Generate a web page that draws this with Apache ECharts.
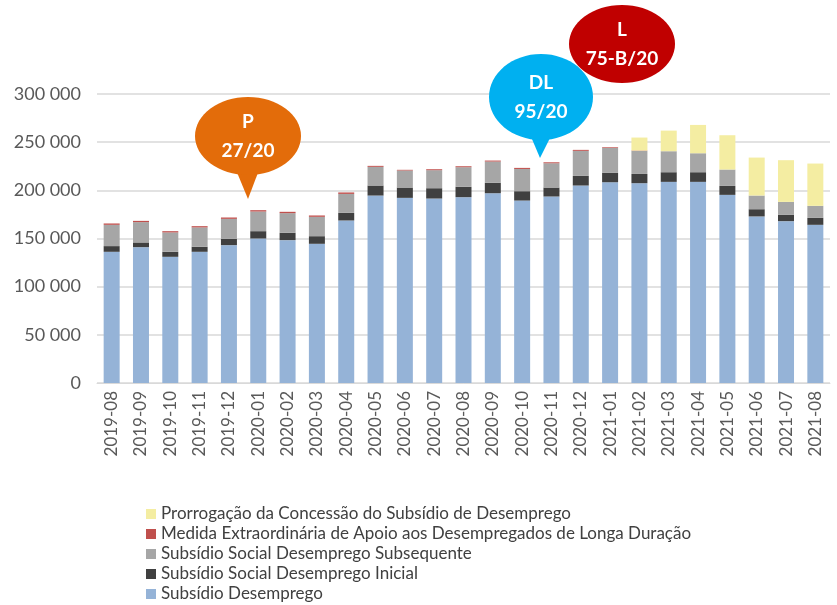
<!DOCTYPE html>
<html lang="pt">
  <head>
    <meta charset="utf-8" />
  </head>
  <body style="height: 100%; margin: 0; overflow: hidden">
    <div id="container" style="width: 837px; height: 605px"></div>
    <script type="text/javascript" src="https://cdn.jsdelivr.net/npm/echarts@6/dist/echarts.min.js"></script>
    <script type="text/javascript">
      const months = [
        '2019-08', '2019-09', '2019-10', '2019-11', '2019-12',
        '2020-01', '2020-02', '2020-03', '2020-04', '2020-05', '2020-06', '2020-07',
        '2020-08', '2020-09', '2020-10', '2020-11', '2020-12',
        '2021-01', '2021-02', '2021-03', '2021-04', '2021-05', '2021-06', '2021-07', '2021-08'
      ]
      const subsidioDesemprego = [
        136200, 141000, 131000, 136200, 143100, 150000, 148300, 144500, 168700, 194600, 192200, 191500,
        192900, 197000, 189400, 193600, 205000, 208400, 207400, 208800, 208800, 195300, 172900, 168000, 164200
      ]
      const socialInicial = [
        5900, 4900, 5200, 5200, 6600, 7600, 7600, 7900, 7900, 10400, 10700, 10700,
        10700, 10800, 9700, 9300, 10000, 9700, 9600, 10000, 10000, 9300, 7500, 6500, 7200
      ]
      const socialSubsequente = [
        22100, 21100, 20100, 20100, 20700, 20400, 20400, 20100, 19700, 19400, 17700, 18700,
        20400, 22100, 23100, 25200, 26000, 25900, 23900, 21800, 19700, 17000, 14200, 13500, 12500
      ]
      const medidaLongaDuracao = [
        1400, 1300, 1300, 1300, 1400, 1400, 1400, 1400, 1500, 1000, 700, 1000,
        1000, 1000, 1100, 1000, 1000, 700, 400, 0, 0, 0, 0, 0, 0
      ]
      const prorrogacao = [
        null, null, null, null, null, null, null, null, null, null, null, null,
        null, null, null, null, null, null, 13500, 21400, 29400, 35600, 39400, 43300, 43900
      ]

      const names = [
        'Subsídio Desemprego',
        'Subsídio Social Desemprego Inicial',
        'Subsídio Social Desemprego Subsequente',
        'Medida Extraordinária de Apoio aos Desempregados de Longa Duração',
        'Prorrogação da Concessão do Subsídio de Desemprego'
      ]
      const colors = ['#95b3d7', '#404040', '#a6a6a6', '#c0504d', '#f4eda2']
      const values = [subsidioDesemprego, socialInicial, socialSubsequente, medidaLongaDuracao, prorrogacao]

      const font = 'Lato, "Open Sans", sans-serif'
      const dom = document.getElementById('container')
      const myChart = echarts.init(dom, null, { renderer: 'canvas' })

      // speech bubble: ellipse + optional pointer + two lines of text
      function bubble(cx, cy, rx, ry, color, line1, line2, tip) {
        const els = []
        if (tip) {
          els.push({ type: 'polygon', shape: { points: tip }, style: { fill: color }, z: 100 })
        }
        els.push({ type: 'ellipse', shape: { cx: cx, cy: cy, rx: rx, ry: ry }, style: { fill: color }, z: 100 })
        els.push({
          type: 'text',
          x: cx,
          y: cy,
          style: {
            text: line1 + '\n' + line2,
            fill: '#fff',
            font: 'bold 19px ' + font,
            lineHeight: 29,
            align: 'center',
            verticalAlign: 'middle'
          },
          z: 101
        })
        return els
      }

      const option = {
        animation: false,
        textStyle: { fontFamily: font },
        grid: { left: 97, right: 7, top: 94, bottom: 222 },
        legend: {
          orient: 'vertical',
          left: 146,
          top: 504,
          height: 200,
          padding: 0,
          itemWidth: 10,
          itemHeight: 10,
          itemGap: 0,
          icon: 'rect',
          data: names.slice().reverse(),
          textStyle: { fontSize: 17, color: '#404040', lineHeight: 20, fontFamily: font }
        },
        xAxis: {
          type: 'category',
          data: months,
          axisTick: { show: false },
          axisLine: { lineStyle: { color: '#d9d9d9' } },
          axisLabel: { rotate: 90, fontSize: 17, color: '#595959', margin: 8, fontFamily: font }
        },
        yAxis: {
          type: 'value',
          min: 0,
          max: 300000,
          interval: 50000,
          axisLabel: {
            fontSize: 18,
            color: '#595959',
            margin: 16,
            fontFamily: font,
            formatter: (v) => String(v).replace(/\B(?=(\d{3})+(?!\d))/g, ' ')
          },
          splitLine: { lineStyle: { color: '#d9d9d9', width: 1.5 } }
        },
        series: names.map((n, i) => ({
          name: n,
          type: 'bar',
          stack: 'total',
          barWidth: 16,
          data: values[i],
          itemStyle: { color: colors[i] }
        })),
        graphic: [].concat(
          bubble(248, 136, 53, 39, '#e36c0a', 'P', '27/20', [[236, 170], [259, 170], [248, 199]]),
          bubble(622, 44, 53, 39, '#c00000', 'L', '75-B/20', null),
          bubble(541, 97, 52, 43, '#00b0f0', 'DL', '95/20', [[529, 132], [553, 132], [540, 158]])
        )
      }

      myChart.setOption(option)
      window.addEventListener('resize', myChart.resize)
    </script>
  </body>
</html>
